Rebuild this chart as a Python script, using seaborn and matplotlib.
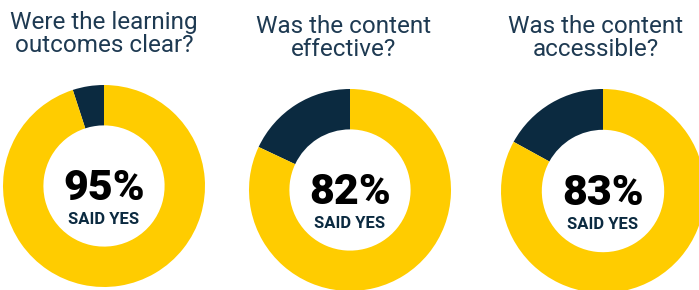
import matplotlib
matplotlib.use("Agg")
import matplotlib.pyplot as plt
import seaborn as sns

# survey results
questions = ["Were the learning\noutcomes clear?",
             "Was the content\neffective?",
             "Was the content\naccessible?"]
yes_pct = [95, 82, 83]
sub_label = "SAID YES"

sns.set_theme(style="white")
plt.rcParams['font.family'] = ['Roboto', 'DejaVu Sans']

yellow = "#FFCC00"
navy = "#0B2A40"
title_col = "#1E3A52"

W, H = 699, 290
fig = plt.figure(figsize=(W / 100, H / 100), dpi=100)

# donut centres / radius in pixels, title centre (x, y) in pixels
centres = [(104, 186, 101), (350, 190, 101), (603, 191, 102)]
title_pos = [(104, 34), (344, 38), (596, 38)]

for q, p, (cx, cy, r), (tx, ty) in zip(questions, yes_pct, centres, title_pos):
    ax = fig.add_axes([(cx - r) / W, (H - cy - r) / H, 2 * r / W, 2 * r / H])
    ax.pie([100 - p, p], colors=[navy, yellow], startangle=90, counterclock=True,
           radius=1, wedgeprops=dict(width=0.4, linewidth=0))
    ax.set_xlim(-1, 1)
    ax.set_ylim(-1, 1)
    ax.set_aspect("auto")
    ax.axis("off")
    ax.text(0, -0.02, f"{p}%", ha="center", va="center", fontsize=31,
            fontweight=900, color="black")
    ax.text(0, -0.33, sub_label, ha="center", va="center", fontsize=12,
            fontweight="bold", color=navy)
    fig.text(tx / W, 1 - ty / H, q, ha="center", va="center", fontsize=17.5,
             color=title_col, linespacing=1.0)

fig.savefig("out.png", dpi=100)
